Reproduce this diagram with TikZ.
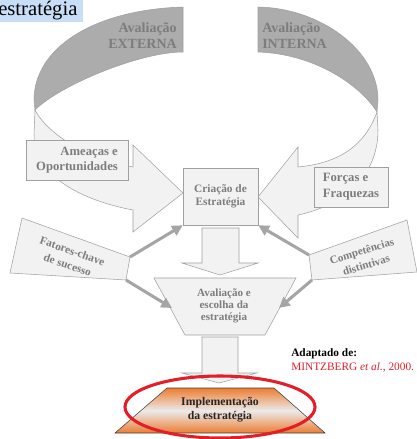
\documentclass[tikz,border=0pt]{standalone}
\usepackage{fontspec}
\setmainfont{Liberation Serif}
\usetikzlibrary{arrows.meta,positioning}
\definecolor{fundo}{RGB}{242,242,242}
\definecolor{borda}{RGB}{160,160,160}
\definecolor{faixa}{RGB}{172,172,172}
\definecolor{cinzatexto}{RGB}{125,125,125}
\definecolor{laranja}{RGB}{237,125,49}
\definecolor{azul}{RGB}{200,222,247}
\definecolor{vermelho}{RGB}{228,30,40}

\begin{document}
\begin{tikzpicture}[x=0.75pt,y=-0.75pt,
    caixa/.style={draw=borda,fill=fundo},
    rotulo/.style={text=cinzatexto,align=center,inner sep=0pt},
    seta/.style={draw=borda!95,line width=2.3pt,-{Triangle[length=8pt,width=8pt]}}]

    \useasboundingbox (0,0) rectangle (417,439);

    \fill[azul] (0,0) rectangle (83,22); % titulo
    \node[anchor=base west,inner sep=0pt,font=\fontsize{15.5}{16}\selectfont] (titulo) at (-2,15.5) {estratégia};

    % avaliacao externa
    \filldraw[fill=faixa,draw=borda] (183,7) -- (183,52) .. controls (140,52) and (60,85) .. (35,110) -- (34,100) .. controls (34,50) and (90,10) .. (183,7) -- cycle;
    \filldraw[caixa] (35,110) .. controls (48,135) and (90,160) .. (133,167) -- (133,145) -- (183,193) -- (133,232) -- (133,210) .. controls (80,200) and (34,175) .. (34,135) -- cycle;
    \node[rotulo,align=right,anchor=north east,font=\bfseries\fontsize{10.5}{12}\selectfont] (externa) at (177,22.5) {Avaliação\\EXTERNA};

    % avaliacao interna
    \filldraw[fill=faixa,draw=borda] (258,7) -- (258,52) .. controls (315,54) and (360,85) .. (377,112) -- (378,100) .. controls (378,50) and (320,8) .. (258,7) -- cycle;
    \filldraw[caixa] (377,112) .. controls (365,145) and (340,163) .. (298,167) -- (298,147) -- (258,197) -- (298,238) -- (298,215) .. controls (345,205) and (378,175) .. (378,130) -- cycle;
    \node[rotulo,align=left,anchor=north west,font=\bfseries\fontsize{10.5}{12}\selectfont] (interna) at (262,22.5) {Avaliação\\INTERNA};

    \node[caixa,rotulo,align=right,minimum width=76.5pt,minimum height=30pt,font=\bfseries\fontsize{9.5}{11.3}\selectfont] (ameacas) at (77,160) {Ameaças e\\Oportunidades};
    \node[caixa,rotulo,align=left,minimum width=55.5pt,minimum height=30pt,font=\bfseries\fontsize{9.5}{12}\selectfont] (forcas) at (351,187) {Forças e\\Fraquezas};
    \node[caixa,rotulo,minimum width=56.25pt,minimum height=42.75pt,font=\bfseries\fontsize{8.5}{10}\selectfont] (criacao) at (220.5,196.5) {Criação de\\Estratégia};

    % setas para baixo
    \filldraw[caixa] (202,228) -- (239,228) -- (239,263) -- (258,263) -- (220,275) -- (182,263) -- (202,263) -- cycle;
    \filldraw[caixa] (202,337) -- (238,337) -- (238,373) -- (257,373) -- (219,383) -- (182,373) -- (202,373) -- cycle;

    % avaliacao e escolha
    \filldraw[caixa] (154,278) -- (296,278) -- (265,335) -- (185,335) -- cycle;
    \coordinate (escolha-w) at (172,308);
    \coordinate (escolha-e) at (279,308);
    \node[rotulo,font=\bfseries\fontsize{8.3}{8.8}\selectfont] (escolha) at (224,306) {Avaliação e\\escolha da\\estratégia};

    % fatores-chave
    \coordinate (fc-nw) at (22,218);
    \coordinate (fc-ne) at (130,257);
    \coordinate (fc-se) at (126,280);
    \coordinate (fc-sw) at (10,273);
    \filldraw[caixa] (fc-nw) -- (fc-ne) -- (fc-se) -- (fc-sw) -- cycle;
    \node[rotulo,rotate=-19,font=\bfseries\fontsize{8.5}{11}\selectfont] (fatores) at (70,258) {Fatores-chave\\de sucesso};

    % competencias
    \coordinate (ct-nw) at (309,255);
    \coordinate (ct-ne) at (407,220);
    \coordinate (ct-se) at (417,272);
    \coordinate (ct-sw) at (312,280);
    \filldraw[caixa] (ct-nw) -- (ct-ne) -- (ct-se) -- (ct-sw) -- cycle;
    \node[rotulo,rotate=17,font=\bfseries\fontsize{8.3}{11}\selectfont] (competencias) at (364,258) {Competências\\distintivas};

    \draw[seta] (fc-ne) -- (criacao.south west);
    \draw[seta] (fc-se) -- (escolha-w);
    \draw[seta] (ct-nw) -- (criacao.south east);
    \draw[seta] (ct-sw) -- (escolha-e);

    % implementacao
    \shade[top color=laranja,bottom color=laranja,middle color=black!8] (167,388) -- (274,388) -- (325,433) -- (115,433) -- cycle;
    \draw[black!75] (167,388) -- (274,388) -- (325,433) -- (115,433) -- cycle;
    \node[rotulo,text=black!85,font=\bfseries\fontsize{8.8}{10.5}\selectfont] (implementacao) at (220,410) {Implementação\\da estratégia};
    \draw[vermelho,line width=2.3pt] (220,407) ellipse [x radius=95,y radius=31];

    \node[anchor=base west,inner sep=0pt,font=\bfseries\fontsize{8.5}{10}\selectfont] (adaptado) at (291,356) {Adaptado de:};
    \node[anchor=base west,inner sep=0pt,text=vermelho,font=\fontsize{8.5}{10}\selectfont] (fonte) at (291,370) {MINTZBERG \textit{et al.}, 2000.};

\end{tikzpicture}
\end{document}
